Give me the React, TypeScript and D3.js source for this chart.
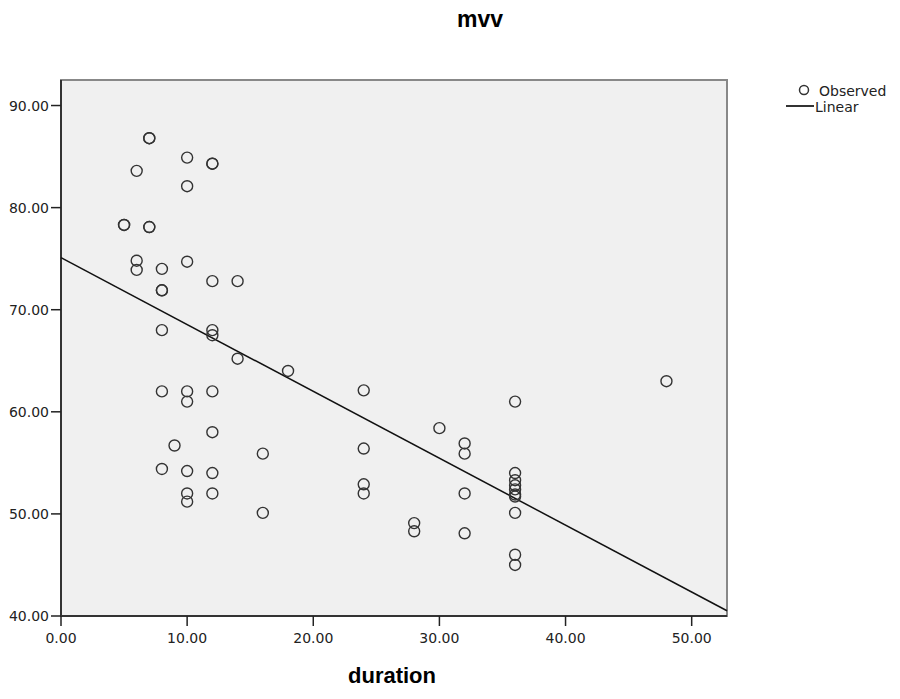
import * as React from 'react';
import * as d3 from 'd3';

// observed points: duration, mvv
const durations = [
  5, 5, 6, 6, 6, 7, 7, 7, 7,
  8, 8, 8, 8, 8, 8, 9,
  10, 10, 10, 10, 10, 10, 10, 10,
  12, 12, 12, 12, 12, 12, 12, 12, 12,
  14, 14, 16, 16, 18,
  24, 24, 24, 24, 28, 28, 30,
  32, 32, 32, 32,
  36, 36, 36, 36, 36, 36, 36, 36, 36, 36,
  48,
];
const mvvValues = [
  78.3, 78.3, 83.6, 74.8, 73.9, 86.8, 86.8, 78.1, 78.1,
  74.0, 71.9, 71.9, 68.0, 62.0, 54.4, 56.7,
  84.9, 82.1, 74.7, 62.0, 61.0, 54.2, 52.0, 51.2,
  84.3, 84.3, 72.8, 68.0, 67.5, 62.0, 58.0, 54.0, 52.0,
  72.8, 65.2, 55.9, 50.1, 64.0,
  62.1, 56.4, 52.9, 52.0, 49.1, 48.3, 58.4,
  56.9, 55.9, 52.0, 48.1,
  61.0, 54.0, 53.3, 52.8, 52.4, 51.9, 51.7, 50.1, 46.0, 45.0,
  63.0,
];
const xTicks = [0, 10, 20, 30, 40, 50];
const yTicks = [40, 50, 60, 70, 80, 90];
const fitIntercept = 75.1;
const fitSlope = -0.655;

const font = '"Liberation Sans", Arial, sans-serif';
const tickFont = '"DejaVu Sans", Verdana, sans-serif';

export default function App() {
  const left = 61, right = 727, top = 80, bottom = 616;
  const x = d3.scaleLinear().domain([0, 52.8]).range([left, right]);
  const y = d3.scaleLinear().domain([40, 92.5]).range([bottom, top]);
  const pts = durations.map((d, i) => [d, mvvValues[i]] as [number, number]);
  const [x0, x1] = x.domain();
  const fit = d3.line<number>()(
    [x0, x1].map(v => [x(v), y(fitIntercept + fitSlope * v)] as [number, number])
  );

  return (
    <svg width={900} height={699} style={{ position: 'absolute', left: 0, top: 0, background: '#fff' }}>
      <text x={480} y={27} textAnchor="middle" fontFamily={font} fontWeight="bold" fontSize={23}>mvv</text>
      <rect x={left} y={top} width={right - left} height={bottom - top} fill="#f0f0f0" stroke="#888" strokeWidth={2} />
      <line x1={left} y1={top} x2={left} y2={bottom} stroke="#333" strokeWidth={2} />
      <line x1={left} y1={bottom} x2={right} y2={bottom} stroke="#333" strokeWidth={2} />
      {yTicks.map(t => (
        <g key={'y' + t}>
          <line x1={left - 10} x2={left} y1={y(t)} y2={y(t)} stroke="#222" strokeWidth={1.5} />
          <text x={left - 12} y={y(t) + 5} textAnchor="end" fontFamily={tickFont} fontSize={14} fill="#222">{t.toFixed(2)}</text>
        </g>
      ))}
      {xTicks.map(t => (
        <g key={'x' + t}>
          <line x1={x(t)} x2={x(t)} y1={bottom} y2={bottom + 10} stroke="#222" strokeWidth={1.5} />
          <text x={x(t)} y={bottom + 27} textAnchor="middle" fontFamily={tickFont} fontSize={14} fill="#222">{t.toFixed(2)}</text>
        </g>
      ))}
      <text x={392} y={683} textAnchor="middle" fontFamily={font} fontWeight="bold" fontSize={22}>duration</text>
      <path d={fit ?? ''} stroke="#111" strokeWidth={1.5} fill="none" />
      {pts.map(([d, m], i) => (
        <circle key={i} cx={x(d)} cy={y(m)} r={5.5} fill="none" stroke="#333" strokeWidth={1.4} />
      ))}
      <circle cx={804} cy={90} r={4.5} fill="none" stroke="#333" strokeWidth={1.5} />
      <text x={819} y={96} fontFamily={tickFont} fontSize={14} fill="#222">Observed</text>
      <line x1={786} x2={814} y1={106} y2={106} stroke="#333" strokeWidth={2} />
      <text x={815} y={112} fontFamily={tickFont} fontSize={14} fill="#222">Linear</text>
    </svg>
  );
}
